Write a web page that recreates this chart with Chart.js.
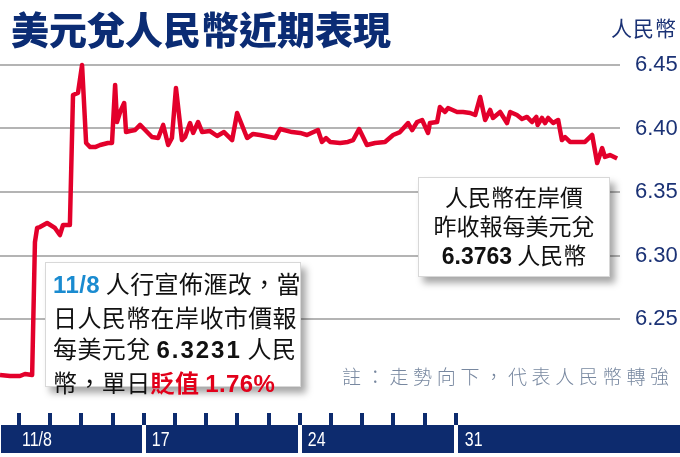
<!DOCTYPE html>
<html>
<head>
<meta charset="utf-8">
<script src="https://cdn.jsdelivr.net/npm/chart.js@4.4.1/dist/chart.umd.min.js"></script>
<style>
  body { margin: 0; background: #fff; }
  #wrap { position: relative; width: 680px; height: 457px; overflow: hidden; font-family: "Noto Sans CJK TC", sans-serif; }
  #c { position: absolute; left: 0; top: 0; }
  .title { position: absolute; left: 11px; top: 9px; font-size: 38px; line-height: 38px; font-weight: 900; color: #0b2c74; white-space: nowrap; }
  .unit { position: absolute; left: 611px; top: 15px; font-size: 21px; line-height: 24px; color: #1b3275; letter-spacing: 1px; white-space: nowrap; }
  .box { position: absolute; background: #fff; border: 1px solid #d8d8d8; box-shadow: 5px 6px 7px rgba(0,0,0,0.35); color: #111; white-space: nowrap; }
  .box1 { left: 45px; top: 262px; width: 256px; height: 125px; padding: 4px 0 0 7px; box-sizing: border-box; font-size: 24px; line-height: 31.5px; letter-spacing: 0.4px; }
  .box2 { left: 418px; top: 177px; width: 192px; height: 100px; padding-top: 4px; box-sizing: border-box; font-size: 23px; line-height: 29px; text-align: center; }
  .num { font-family: "Liberation Sans", Arial, sans-serif; font-weight: 700; }
  .blue { color: #1a8bd0; }
  .red { color: #e2001a; font-weight: 700; }
  .note { position: absolute; left: 342px; top: 364px; font-size: 19px; line-height: 24px; letter-spacing: 4.7px; color: #7888a0; font-weight: 300; white-space: nowrap; }
</style>
</head>
<body>
<div id="wrap">
  <canvas id="c" width="680" height="457"></canvas>
  <div class="title">美元兌人民幣近期表現</div>
  <div class="unit">人民幣</div>
  <div class="box box1">
    <div><span class="num blue">11/8</span> 人行宣佈滙改，當</div>
    <div>日人民幣在岸收市價報</div>
    <div>每美元兌 <span class="num" style="letter-spacing:2px">6.3231</span> 人民</div>
    <div>幣，單日<span class="red">貶值 <span class="num">1.76%</span></span></div>
  </div>
  <div class="box box2">
    <div>人民幣在岸價</div>
    <div>昨收報每美元兌</div>
    <div><span class="num">6.3763</span> 人民幣</div>
  </div>
  <div class="note">註：走勢向下，代表人民幣轉強</div>
</div>
<script>
// trading-day position (0 = 11/8, 4 = 17, 9 = 24, 14 = 31) and USD/CNY rate
const dayPos = [-0.61, -0.29, 0.03, 0.19, 0.42, 0.51, 0.58, 0.67, 0.90, 1.15, 1.31, 1.41, 1.63,
  1.73, 1.89, 2.02, 2.15, 2.28, 2.44, 2.60, 2.85, 2.98, 3.08, 3.14, 3.24, 3.37, 3.43, 3.56, 3.72,
  3.88, 4.01, 4.26, 4.46, 4.62, 4.78, 4.90, 5.03, 5.22, 5.32, 5.48, 5.58, 5.74, 5.87, 6.12, 6.35,
  6.57, 6.83, 6.99, 7.31, 7.50, 7.72, 8.21, 8.37, 8.75, 9.01, 9.23, 9.58, 9.71, 9.84, 9.97, 10.29,
  10.54, 10.71, 10.90, 11.15, 11.41, 11.73, 11.99, 12.21, 12.47, 12.60, 12.76, 12.92, 13.11, 13.17,
  13.40, 13.49, 13.65, 13.75, 14.04, 14.23, 14.46, 14.62, 14.78, 14.94, 15.10, 15.19, 15.42, 15.64,
  15.74, 15.96, 16.12, 16.28, 16.44, 16.58, 16.62, 16.76, 16.86, 16.96, 17.12, 17.28, 17.40, 17.50,
  17.66, 18.14, 18.37, 18.53, 18.69, 18.78, 18.94, 19.17];
const rate = [6.2059, 6.2051, 6.2051, 6.2067, 6.2059, 6.3106, 6.3217, 6.3224, 6.3256, 6.3217, 6.3161, 6.3240, 6.3240,
  6.4264, 6.4280, 6.4500, 6.3886, 6.3854, 6.3854, 6.3870, 6.3886, 6.3886, 6.4343, 6.4051, 6.4130, 6.4201, 6.3972, 6.3980, 6.3988,
  6.4028, 6.3996, 6.3933, 6.3925, 6.4028, 6.3870, 6.3925, 6.4319, 6.3909, 6.3933, 6.4043, 6.3965, 6.4051, 6.3972, 6.3980, 6.3941,
  6.3972, 6.3909, 6.4122, 6.3925, 6.3957, 6.3949, 6.3925, 6.3996, 6.3972, 6.3965, 6.3949, 6.3988, 6.3894, 6.3925, 6.3894, 6.3886,
  6.3894, 6.3909, 6.3996, 6.3870, 6.3886, 6.3894, 6.3949, 6.3972, 6.4043, 6.3988, 6.4051, 6.4067, 6.3965, 6.4043,
  6.4051, 6.4169, 6.4130, 6.4161, 6.4130, 6.4130, 6.4122, 6.4106, 6.4248, 6.4067, 6.4146, 6.4083, 6.4130, 6.4043,
  6.4130, 6.4106, 6.4075, 6.4091, 6.4051, 6.4091, 6.4028, 6.4083, 6.4043, 6.4083, 6.4043, 6.4067, 6.3909, 6.3933,
  6.3894, 6.3894, 6.3949, 6.3728, 6.3846, 6.3776, 6.3791, 6.3763];
const yTicks = [6.25, 6.30, 6.35, 6.40, 6.45];
const dayTicks = [0, 1, 2, 3, 4, 5, 6, 7, 8, 9, 10, 11, 12, 13, 14];
const weekStarts = [4, 9, 14];
const dayLabels = [{ pos: 0, text: '11/8', dx: 3 }, { pos: 4, text: '17', dx: 8 }, { pos: 9, text: '24', dx: 8 }, { pos: 14, text: '31', dx: 9 }];

const navy = '#0d2b6e';

const bandPlugin = {
  id: 'band',
  afterDraw(chart) {
    const ctx = chart.ctx;
    const x = chart.scales.x;
    ctx.save();
    ctx.fillStyle = navy;
    ctx.fillRect(1, 425, 679, 28);
    dayTicks.forEach(d => {
      const px = Math.round(x.getPixelForValue(d));
      ctx.fillRect(px - 2, 413, 4, 12);
    });
    ctx.fillStyle = '#fff';
    weekStarts.forEach(d => {
      const px = Math.round(x.getPixelForValue(d));
      ctx.fillRect(px - 2, 425, 4, 28);
    });
    // condensed labels, like the narrow face of the original
    ctx.font = '21px "Liberation Sans", sans-serif';
    ctx.textBaseline = 'middle';
    ctx.textAlign = 'left';
    dayLabels.forEach(l => {
      const px = x.getPixelForValue(l.pos) + l.dx;
      ctx.save();
      ctx.translate(px, 440);
      ctx.scale(0.76, 1);
      ctx.fillText(l.text, 0, 0);
      ctx.restore();
    });
    ctx.restore();
  }
};

new Chart(document.getElementById('c'), {
  type: 'line',
  data: {
    datasets: [{
      data: dayPos.map((d, i) => ({ x: d, y: rate[i] })),
      borderColor: '#e3002b',
      borderWidth: 4.5,
      pointRadius: 0,
      tension: 0,
      borderJoinStyle: 'round',
      fill: false
    }]
  },
  options: {
    responsive: false,
    animation: false,
    layout: { padding: { top: 39.6, bottom: 74.5, left: 0, right: 0 } },
    plugins: { legend: { display: false }, tooltip: { enabled: false } },
    scales: {
      x: {
        type: 'linear',
        display: false,
        min: -0.61,
        max: -0.61 + 620 / 31.2
      },
      y: {
        position: 'right',
        min: 6.20,
        max: 6.47,
        afterFit(scale) { scale.width = 60; },
        afterBuildTicks(scale) { scale.ticks = yTicks.map(v => ({ value: v })); },
        border: { display: false },
        grid: { color: '#b4b4b4', lineWidth: 2, drawTicks: false },
        ticks: {
          padding: 15,
          color: '#1b3275',
          font: { family: '"Liberation Sans", Arial, sans-serif', size: 22 },
          callback: v => v.toFixed(2)
        }
      }
    }
  },
  plugins: [bandPlugin]
});
</script>
</body>
</html>
